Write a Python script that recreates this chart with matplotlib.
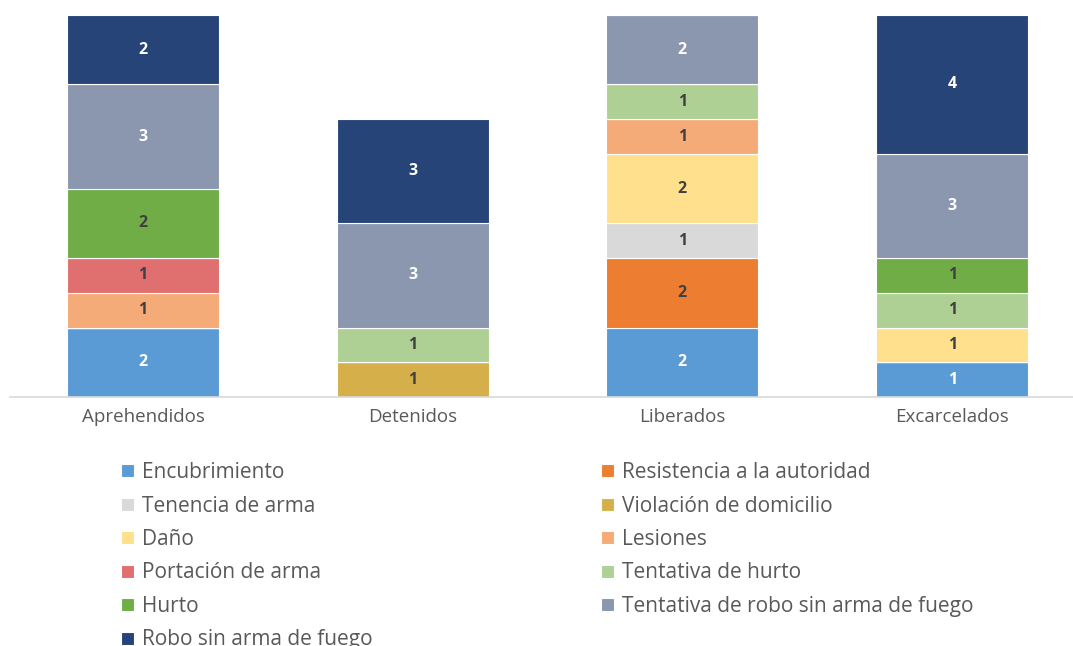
import numpy as np
import matplotlib.pyplot as plt
import matplotlib as mpl

categories = ["Aprehendidos", "Detenidos", "Liberados", "Excarcelados"]

series_names = [
    "Encubrimiento",
    "Resistencia a la autoridad",
    "Tenencia de arma",
    "Violación de domicilio",
    "Daño",
    "Lesiones",
    "Portación de arma",
    "Tentativa de hurto",
    "Hurto",
    "Tentativa de robo sin arma de fuego",
    "Robo sin arma de fuego",
]

encubrimiento = [2, 0, 2, 1]
resistencia = [0, 0, 2, 0]
tenencia = [0, 0, 1, 0]
violacion = [0, 1, 0, 0]
dano = [0, 0, 2, 1]
lesiones = [1, 0, 1, 0]
portacion = [1, 0, 0, 0]
tentativa_hurto = [0, 1, 1, 1]
hurto = [2, 0, 0, 1]
tentativa_robo = [3, 3, 2, 3]
robo = [2, 3, 0, 4]

series_values = [encubrimiento, resistencia, tenencia, violacion, dano, lesiones,
                 portacion, tentativa_hurto, hurto, tentativa_robo, robo]

colors = ["#5B9BD5", "#ED7D31", "#D9D9D9", "#D4AF4A", "#FFE08C", "#F4AB78",
          "#E06F6F", "#AED095", "#70AD47", "#8A97AF", "#264478"]
white_text = {"Encubrimiento", "Tentativa de robo sin arma de fuego",
              "Robo sin arma de fuego"}


def main():
    mpl.rc('font', family=["Open Sans", "DejaVu Sans"])
    text_color = "#595959"

    fig = plt.figure(figsize=(10.73, 6.46), dpi=100)
    ax = fig.add_axes([10 / 1073, 1 - 397 / 646, 1063 / 1073, 382 / 646])

    x = np.arange(len(categories))
    bottom = np.zeros(len(categories))
    handles = []
    for name, vals, col in zip(series_names, series_values, colors):
        vals = np.array(vals, dtype=float)
        bars = ax.bar(x, vals, width=0.564, bottom=bottom, color=col,
                      edgecolor="white", linewidth=0.8, label=name)
        handles.append(bars)
        tc = "white" if name in white_text else "#404040"
        for xi, v, b in zip(x, vals, bottom):
            if v > 0:
                ax.text(xi, b + v / 2, "{:d}".format(int(v)), ha="center",
                        va="center", fontsize=11.5, fontweight="bold", color=tc)
        bottom += vals

    ax.set_xlim(-0.493, 3.448)
    ax.set_ylim(0, 11)
    ax.set_xticks(x)
    ax.set_xticklabels(categories, fontsize=13.5, color=text_color)
    ax.tick_params(axis="x", length=0, pad=8)
    ax.set_yticks([])
    for s in ["top", "right", "left"]:
        ax.spines[s].set_visible(False)
    ax.spines["bottom"].set_color("#D9D9D9")
    ax.spines["bottom"].set_linewidth(1.2)

    # leyenda en dos columnas, orden por filas
    left_idx = list(range(0, len(series_names), 2))
    right_idx = list(range(1, len(series_names), 2))
    common = dict(frameon=False, fontsize=15, handlelength=0.6,
                  handleheight=0.6, handletextpad=0.4, labelspacing=0.6,
                  borderaxespad=0, borderpad=0, labelcolor=text_color,
                  loc="upper left")
    fig.legend([handles[i] for i in left_idx],
               [series_names[i] for i in left_idx],
               bbox_to_anchor=(121 / 1073, 1 - 462 / 646), **common)
    fig.legend([handles[i] for i in right_idx],
               [series_names[i] for i in right_idx],
               bbox_to_anchor=(601 / 1073, 1 - 462 / 646), **common)

    fig.savefig("out.png", dpi=100)


if __name__ == '__main__':
    main()
